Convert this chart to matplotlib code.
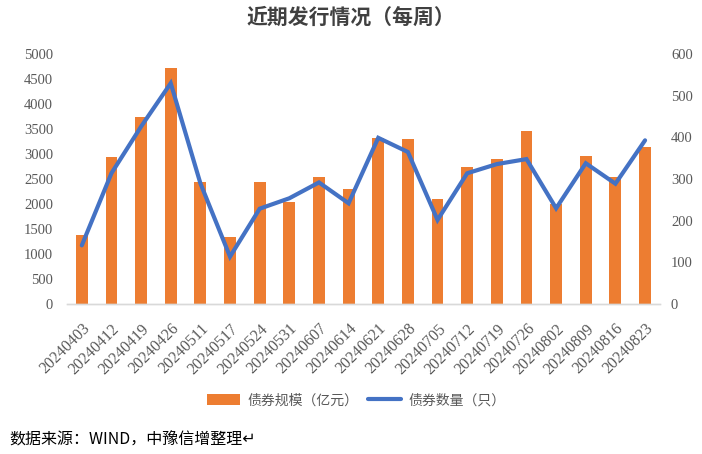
import matplotlib
matplotlib.use("Agg")
import matplotlib.pyplot as plt
import numpy as np

dates = ["20240403", "20240412", "20240419", "20240426", "20240511", "20240517",
         "20240524", "20240531", "20240607", "20240614", "20240621", "20240628",
         "20240705", "20240712", "20240719", "20240726", "20240802", "20240809",
         "20240816", "20240823"]
scale = [1390, 2950, 3750, 4730, 2450, 1350, 2450, 2050, 2550, 2310,
         3330, 3300, 2100, 2750, 2910, 3470, 2000, 2970, 2550, 3150]
count = [141, 314, 426, 530, 290, 114, 229, 254, 292, 242,
         399, 365, 202, 314, 336, 348, 230, 338, 289, 393]

left_ticks = [0, 500, 1000, 1500, 2000, 2500, 3000, 3500, 4000, 4500, 5000]
right_ticks = [0, 100, 200, 300, 400, 500, 600]

CJK = ["Noto Sans CJK SC", "DejaVu Sans"]
NUM = ["Liberation Serif", "DejaVu Serif"]
GRAY = "#595959"

fig = plt.figure(figsize=(7.02, 4.54), dpi=100)
ax = fig.add_axes([0.0954, 0.330, 0.8446, 0.551])
ax2 = ax.twinx()

x = np.arange(len(dates))
bars = ax.bar(x, scale, width=0.4, color="#ED7D31", label="债券规模（亿元）", zorder=2)
line, = ax2.plot(x, count, color="#4472C4", linewidth=3.0, solid_capstyle="round",
                 solid_joinstyle="miter", label="债券数量（只）", zorder=3)

ax.set_xlim(-0.5, len(dates) - 0.5)
ax.set_ylim(0, 5000)
ax2.set_ylim(0, 600)
ax.set_yticks(left_ticks)
ax.set_yticklabels([str(v) for v in left_ticks], family=NUM, fontsize=10.5, color=GRAY)
ax2.set_yticks(right_ticks)
ax2.set_yticklabels([str(v) for v in right_ticks], family=NUM, fontsize=10.5, color=GRAY)
ax.set_xticks(x)
ax.set_xticklabels(dates, rotation=45, ha="right", rotation_mode="anchor",
                   family=NUM, fontsize=11.5, color=GRAY)

for a in (ax, ax2):
    for s in ("top", "left", "right"):
        a.spines[s].set_visible(False)
    a.spines["bottom"].set_color("#D9D9D9")
    a.spines["bottom"].set_linewidth(1.0)
    a.tick_params(length=0)
ax.tick_params(axis="y", pad=10)
ax.tick_params(axis="x", pad=12)
ax2.tick_params(axis="y", pad=8)

fig.text(0.5, 0.962, "近期发行情况（每周）", ha="center", va="center",
         family=CJK, fontsize=15, color="#404040", weight="bold")

leg = fig.legend([bars, line], ["债券规模（亿元）", "债券数量（只）"],
                 loc="center", bbox_to_anchor=(0.507, 0.118), ncol=2, frameon=False,
                 prop={"family": CJK, "size": 10}, handlelength=2.4, handleheight=0.9,
                 columnspacing=0.7, handletextpad=0.5)
for t in leg.get_texts():
    t.set_color(GRAY)

fig.text(0.014, 0.030, "数据来源：WIND，中豫信增整理↵", ha="left", va="center",
         family=CJK, fontsize=11.5, color="black")

fig.savefig("out.png", dpi=100)
